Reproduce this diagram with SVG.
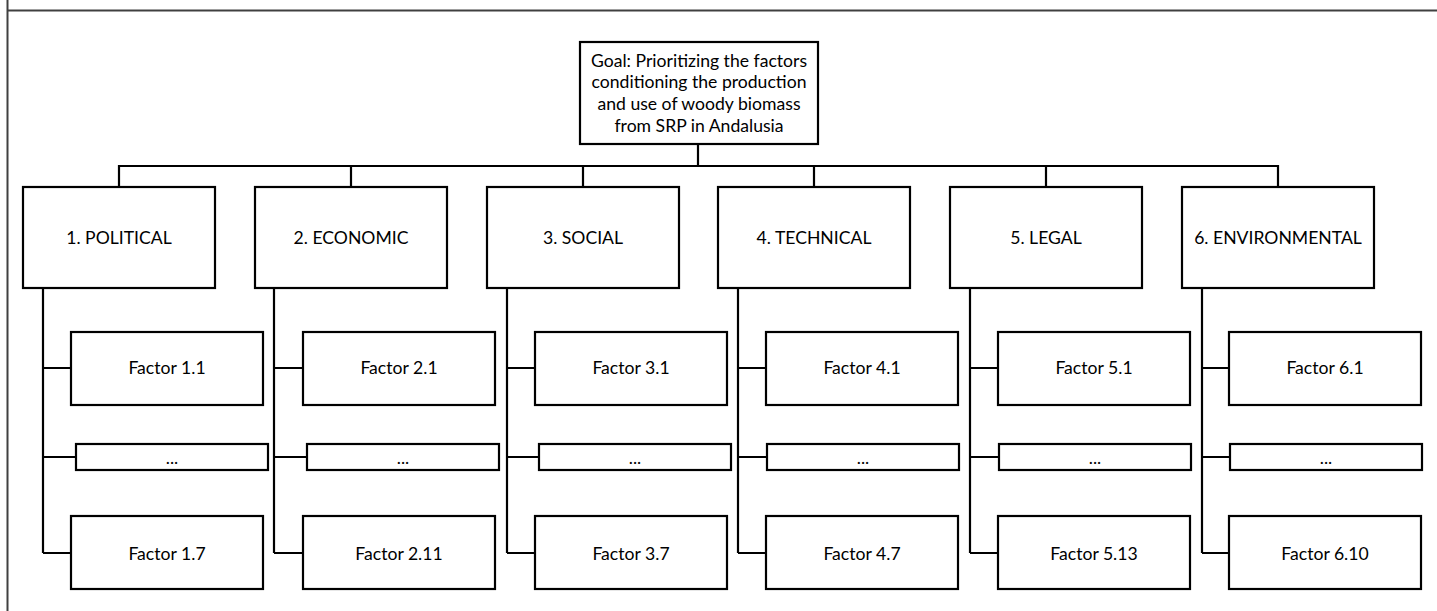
<svg xmlns="http://www.w3.org/2000/svg" width="1437" height="611" viewBox="0 0 1437 611">
<style>
.frame{stroke:#404040;stroke-width:2;fill:none}
.box{fill:#fff;stroke:#000;stroke-width:2.2}
.ln{stroke:#000;stroke-width:2.2;fill:none}
text{font-family:Lato,"Liberation Sans",sans-serif;font-size:17.6px;fill:#000;text-anchor:middle}
</style>
<rect width="1437" height="611" fill="#fff"/>
<g id="frame">
<line class="frame" x1="7.5" y1="0" x2="7.5" y2="611"/>
<line class="frame" x1="7" y1="10.5" x2="1437" y2="10.5"/>
</g>
<g id="connectors">
<path class="ln" d="M698 144V166M119 187V166H1278V187M351 166V187M583 166V187M814 166V187M1046 166V187"/>
<path class="ln" d="M43 288V553M43 368H71M43 457H76M43 553H71"/>
<path class="ln" d="M274 288V553M274 368H303M274 457H307M274 553H303"/>
<path class="ln" d="M507 288V553M507 368H535M507 457H539M507 553H535"/>
<path class="ln" d="M738 288V553M738 368H766M738 457H767M738 553H766"/>
<path class="ln" d="M970 288V553M970 368H998M970 457H999M970 553H998"/>
<path class="ln" d="M1202 288V553M1202 368H1229M1202 457H1230M1202 553H1229"/>
</g>
<g id="goal">
<rect class="box" x="580" y="42" width="238" height="102"/>
<text x="699" y="66.5">Goal: Prioritizing the factors</text>
<text x="699" y="88.2">conditioning the production</text>
<text x="699" y="110">and use of woody biomass</text>
<text x="699" y="131.7">from SRP in Andalusia</text>
</g>
<g id="cat1"><rect class="box" x="23" y="187" width="192" height="101"/><text x="119" y="244">1. POLITICAL</text></g>
<g id="cat2"><rect class="box" x="255" y="187" width="192" height="101"/><text x="351" y="244">2. ECONOMIC</text></g>
<g id="cat3"><rect class="box" x="487" y="187" width="192" height="101"/><text x="583" y="244">3. SOCIAL</text></g>
<g id="cat4"><rect class="box" x="718" y="187" width="192" height="101"/><text x="814" y="244">4. TECHNICAL</text></g>
<g id="cat5"><rect class="box" x="950" y="187" width="192" height="101"/><text x="1046" y="244">5. LEGAL</text></g>
<g id="cat6"><rect class="box" x="1182" y="187" width="192" height="101"/><text x="1278" y="244">6. ENVIRONMENTAL</text></g>
<g id="f1-1"><rect class="box" x="71" y="332" width="192" height="73"/><text x="167" y="374">Factor 1.1</text></g>
<g id="f1-dots"><rect class="box" x="76" y="444" width="192" height="26"/><text x="172" y="463.5">...</text></g>
<g id="f1-7"><rect class="box" x="71" y="516" width="192" height="73"/><text x="167" y="559.5">Factor 1.7</text></g>
<g id="f2-1"><rect class="box" x="303" y="332" width="192" height="73"/><text x="399" y="374">Factor 2.1</text></g>
<g id="f2-dots"><rect class="box" x="307" y="444" width="192" height="26"/><text x="403" y="463.5">...</text></g>
<g id="f2-11"><rect class="box" x="303" y="516" width="192" height="73"/><text x="399" y="559.5">Factor 2.11</text></g>
<g id="f3-1"><rect class="box" x="535" y="332" width="192" height="73"/><text x="631" y="374">Factor 3.1</text></g>
<g id="f3-dots"><rect class="box" x="539" y="444" width="192" height="26"/><text x="635" y="463.5">...</text></g>
<g id="f3-7"><rect class="box" x="535" y="516" width="192" height="73"/><text x="631" y="559.5">Factor 3.7</text></g>
<g id="f4-1"><rect class="box" x="766" y="332" width="192" height="73"/><text x="862" y="374">Factor 4.1</text></g>
<g id="f4-dots"><rect class="box" x="767" y="444" width="192" height="26"/><text x="863" y="463.5">...</text></g>
<g id="f4-7"><rect class="box" x="766" y="516" width="192" height="73"/><text x="862" y="559.5">Factor 4.7</text></g>
<g id="f5-1"><rect class="box" x="998" y="332" width="192" height="73"/><text x="1094" y="374">Factor 5.1</text></g>
<g id="f5-dots"><rect class="box" x="999" y="444" width="192" height="26"/><text x="1095" y="463.5">...</text></g>
<g id="f5-13"><rect class="box" x="998" y="516" width="192" height="73"/><text x="1094" y="559.5">Factor 5.13</text></g>
<g id="f6-1"><rect class="box" x="1229" y="332" width="192" height="73"/><text x="1325" y="374">Factor 6.1</text></g>
<g id="f6-dots"><rect class="box" x="1230" y="444" width="192" height="26"/><text x="1326" y="463.5">...</text></g>
<g id="f6-10"><rect class="box" x="1229" y="516" width="192" height="73"/><text x="1325" y="559.5">Factor 6.10</text></g>
</svg>
